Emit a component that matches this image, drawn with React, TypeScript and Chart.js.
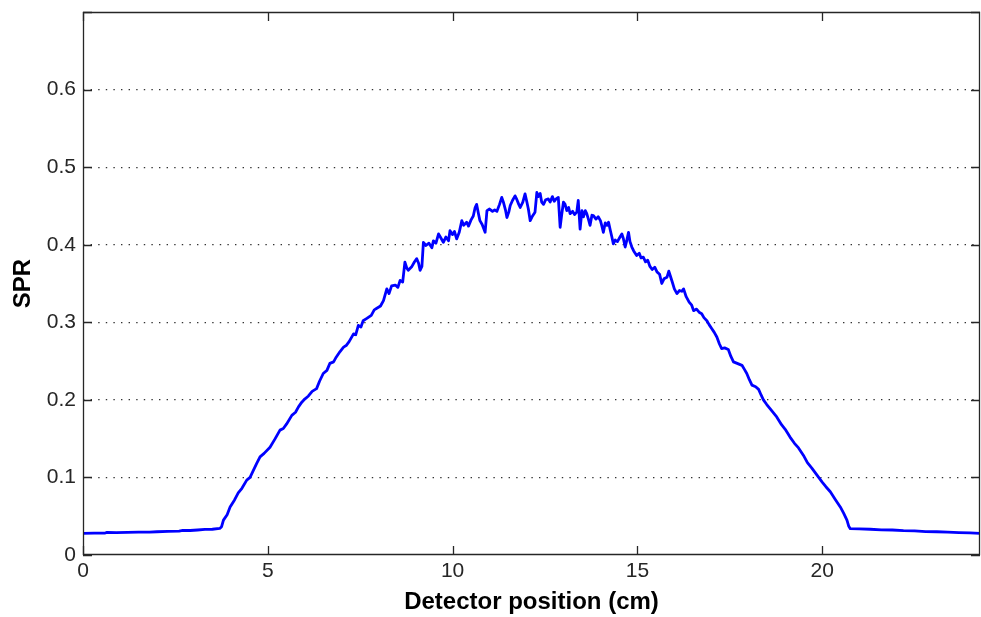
import React, { useEffect, useRef } from "react";
import { Chart, registerables } from "chart.js";

Chart.register(...registerables);

// Detector position (cm)
const positions: number[] = [
  0, 0.3, 0.6, 0.65, 0.9, 1.2, 1.5, 1.8, 2.0, 2.3,
  2.6, 2.7, 2.9, 3.1, 3.3, 3.5, 3.7, 3.75, 3.8, 3.9,
  3.98, 4.1, 4.2, 4.3, 4.43, 4.52, 4.6, 4.7, 4.79, 4.9,
  5.06, 5.2, 5.33, 5.42, 5.51, 5.65, 5.75, 5.83, 5.92, 6.0,
  6.1, 6.2, 6.32, 6.4, 6.5, 6.6, 6.68, 6.78, 6.85, 6.95,
  7.05, 7.12, 7.2, 7.32, 7.38, 7.45, 7.52, 7.58, 7.68, 7.8,
  7.88, 7.95, 8.05, 8.13, 8.22, 8.28, 8.35, 8.45, 8.52, 8.58,
  8.65, 8.71, 8.76, 8.8, 8.9, 8.97, 9.03, 9.08, 9.12, 9.17,
  9.21, 9.28, 9.36, 9.44, 9.48, 9.55, 9.62, 9.68, 9.75, 9.82,
  9.89, 9.93, 10.0, 10.05, 10.11, 10.18, 10.25, 10.3, 10.38, 10.43,
  10.5, 10.56, 10.61, 10.65, 10.7, 10.74, 10.8, 10.88, 10.93, 11.0,
  11.08, 11.14, 11.2, 11.27, 11.33, 11.38, 11.43, 11.47, 11.52, 11.56,
  11.62, 11.69, 11.74, 11.79, 11.83, 11.9, 11.96, 12.01, 12.05, 12.1,
  12.15, 12.23, 12.28, 12.32, 12.37, 12.41, 12.46, 12.52, 12.59, 12.64,
  12.7, 12.75, 12.8, 12.86, 12.91, 12.95, 13.0, 13.04, 13.09, 13.14,
  13.18, 13.25, 13.3, 13.36, 13.4, 13.45, 13.5, 13.54, 13.59, 13.63,
  13.68, 13.72, 13.77, 13.81, 13.88, 13.94, 14.0, 14.04, 14.08, 14.13,
  14.18, 14.22, 14.27, 14.31, 14.35, 14.4, 14.46, 14.53, 14.58, 14.62,
  14.67, 14.71, 14.76, 14.8, 14.85, 14.9, 14.98, 15.05, 15.1, 15.16,
  15.22, 15.28, 15.34, 15.4, 15.47, 15.53, 15.6, 15.66, 15.72, 15.8,
  15.85, 15.89, 15.95, 16.0, 16.07, 16.14, 16.2, 16.25, 16.32, 16.4,
  16.47, 16.52, 16.6, 16.67, 16.74, 16.8, 16.88, 16.94, 17.01, 17.08,
  17.15, 17.22, 17.28, 17.36, 17.46, 17.53, 17.6, 17.7, 17.83, 17.9,
  17.96, 18.03, 18.1, 18.2, 18.28, 18.35, 18.41, 18.5, 18.6, 18.77,
  18.9, 19.0, 19.13, 19.25, 19.36, 19.49, 19.6, 19.72, 19.86, 20.0,
  20.1, 20.22, 20.35, 20.49, 20.58, 20.67, 20.72, 20.76, 21.0, 21.3,
  21.6, 21.9, 22.2, 22.5, 22.8, 23.1, 23.4, 23.7, 24.0, 24.27,
];

// SPR values
const sprValues: number[] = [
  0.0278, 0.0282, 0.0283, 0.0292, 0.0288, 0.0292, 0.0296, 0.0296, 0.03, 0.0304,
  0.0308, 0.0318, 0.0316, 0.0322, 0.033, 0.0332, 0.0342, 0.0365, 0.045, 0.052,
  0.062, 0.071, 0.08, 0.086, 0.0965, 0.1, 0.108, 0.118, 0.1265, 0.131,
  0.139, 0.15, 0.161, 0.163, 0.169, 0.18, 0.184, 0.191, 0.197, 0.201,
  0.205, 0.211, 0.2145, 0.224, 0.234, 0.238, 0.247, 0.249, 0.255, 0.262,
  0.268, 0.27, 0.275, 0.285, 0.284, 0.296, 0.294, 0.302, 0.305, 0.309,
  0.316, 0.318, 0.321, 0.328, 0.343, 0.337, 0.347, 0.348, 0.345, 0.354,
  0.352, 0.3775, 0.37, 0.367, 0.372, 0.378, 0.382, 0.376, 0.367, 0.372,
  0.403, 0.399, 0.402, 0.396, 0.405, 0.402, 0.414, 0.409, 0.403, 0.41,
  0.405, 0.418, 0.413, 0.417, 0.4075, 0.416, 0.431, 0.425, 0.429, 0.424,
  0.432, 0.437, 0.448, 0.452, 0.44, 0.431, 0.426, 0.416, 0.444, 0.446,
  0.443, 0.445, 0.443, 0.452, 0.461, 0.454, 0.445, 0.435, 0.442, 0.4505,
  0.457, 0.463, 0.458, 0.452, 0.448, 0.455, 0.4655, 0.455, 0.446, 0.431,
  0.436, 0.442, 0.4675, 0.462, 0.466, 0.455, 0.452, 0.458, 0.459, 0.455,
  0.462, 0.456, 0.459, 0.461, 0.4225, 0.438, 0.455, 0.4525, 0.444, 0.448,
  0.44, 0.443, 0.439, 0.442, 0.457, 0.42, 0.444, 0.436, 0.444, 0.44,
  0.432, 0.425, 0.438, 0.4375, 0.433, 0.436, 0.431, 0.424, 0.416, 0.428,
  0.425, 0.429, 0.418, 0.41, 0.401, 0.406, 0.404, 0.41, 0.414, 0.408,
  0.397, 0.405, 0.416, 0.404, 0.397, 0.392, 0.386, 0.389, 0.383, 0.384,
  0.378, 0.38, 0.372, 0.368, 0.371, 0.365, 0.362, 0.35, 0.356, 0.358,
  0.366, 0.36, 0.351, 0.343, 0.337, 0.341, 0.34, 0.343, 0.333, 0.326,
  0.322, 0.315, 0.317, 0.313, 0.311, 0.306, 0.302, 0.297, 0.292, 0.287,
  0.281, 0.272, 0.266, 0.267, 0.265, 0.256, 0.249, 0.247, 0.2445, 0.239,
  0.234, 0.226, 0.219, 0.217, 0.2135, 0.206, 0.2, 0.194, 0.188, 0.178,
  0.168, 0.162, 0.152, 0.144, 0.138, 0.1287, 0.119, 0.112, 0.103, 0.094,
  0.088, 0.0815, 0.072, 0.062, 0.054, 0.045, 0.037, 0.034, 0.0338, 0.0332,
  0.0325, 0.0322, 0.0315, 0.0312, 0.0302, 0.03, 0.0294, 0.0288, 0.0284, 0.028,
];

const xTickValues: number[] = [0, 5, 10, 15, 20];
const yTickValues: number[] = [0, 0.1, 0.2, 0.3, 0.4, 0.5, 0.6, 0.7];
const xMax = 24.27;
const yMax = 0.7;

const FONT = '"Liberation Sans", Arial, Helvetica, sans-serif';
const AXIS_COLOR = "#262626";

const framePlugin = {
  id: "matlabFrame",
  afterDatasetsDraw(chart: any) {
    const { ctx, chartArea, scales } = chart;
    const { left, right, top, bottom } = chartArea;
    const tickLen = 9;
    ctx.save();
    ctx.strokeStyle = AXIS_COLOR;
    ctx.lineWidth = 1.3;
    ctx.beginPath();
    ctx.rect(left + 0.5, top + 0.5, right - left - 1, bottom - top - 1);
    ctx.stroke();
    ctx.beginPath();
    xTickValues.forEach((v) => {
      const px = Math.round(scales.x.getPixelForValue(v)) + 0.5;
      ctx.moveTo(px, bottom);
      ctx.lineTo(px, bottom - tickLen);
      ctx.moveTo(px, top);
      ctx.lineTo(px, top + tickLen);
    });
    yTickValues.forEach((v) => {
      const py = Math.round(scales.y.getPixelForValue(v)) + 0.5;
      ctx.moveTo(left, py);
      ctx.lineTo(left + tickLen, py);
      ctx.moveTo(right, py);
      ctx.lineTo(right - tickLen, py);
    });
    ctx.stroke();
    ctx.restore();
  },
};

export default function App() {
  const canvasRef = useRef<HTMLCanvasElement | null>(null);

  useEffect(() => {
    document.body.style.margin = "0";
    const canvas = canvasRef.current;
    if (!canvas) return;
    const points = positions.map((x, i) => ({ x, y: sprValues[i] }));
    const chart = new Chart(canvas, {
      type: "line",
      data: {
        datasets: [
          {
            data: points,
            borderColor: "#0000ff",
            borderWidth: 2.8,
            borderJoinStyle: "round",
            pointRadius: 0,
            tension: 0,
            fill: false,
          },
        ],
      },
      options: {
        animation: false,
        responsive: false,
        devicePixelRatio: 1,
        parsing: false,
        layout: { padding: { left: 0, top: 12, right: 1, bottom: 0 } },
        plugins: {
          legend: { display: false },
          tooltip: { enabled: false },
        },
        scales: {
          x: {
            type: "linear",
            min: 0,
            max: xMax,
            afterBuildTicks: (scale: any) => {
              scale.ticks = xTickValues.map((v) => ({ value: v }));
            },
            afterFit: (scale: any) => {
              scale.height = 62;
              scale.paddingLeft = 0;
              scale.paddingRight = 0;
            },
            grid: { display: false, drawTicks: false },
            border: { display: false },
            ticks: {
              padding: 4,
              color: AXIS_COLOR,
              font: { family: FONT, size: 21 },
              maxRotation: 0,
              callback: (v: any) => String(v),
            },
            title: {
              display: true,
              text: "Detector position (cm)",
              color: "#000",
              font: { family: FONT, size: 24, weight: "bold", lineHeight: 1 },
              padding: { top: 0, bottom: 3 },
            },
          },
          y: {
            type: "linear",
            min: 0,
            max: yMax,
            afterBuildTicks: (scale: any) => {
              scale.ticks = yTickValues.map((v) => ({ value: v }));
            },
            afterFit: (scale: any) => {
              scale.width = 83;
              scale.paddingTop = 0;
              scale.paddingBottom = 0;
            },
            grid: {
              drawTicks: false,
              color: (c: any) => {
                const v = c.tick ? c.tick.value : 0;
                return v > 0.05 && v < 0.65 ? "#333333" : "rgba(0,0,0,0)";
              },
              lineWidth: 1.2,
            },
            border: { display: false, dash: [1.4, 6.2] },
            ticks: {
              padding: 7,
              color: AXIS_COLOR,
              font: { family: FONT, size: 21 },
              callback: (v: any) =>
                v > 0.65 ? "" : v === 0 ? "0" : Number(v).toFixed(1),
            },
            title: {
              display: true,
              text: "SPR",
              color: "#000",
              font: { family: FONT, size: 24, weight: "bold", lineHeight: 1 },
              padding: { top: 11, bottom: 0 },
            },
          },
        },
      },
      plugins: [framePlugin],
    } as any);
    return () => chart.destroy();
  }, []);

  return (
    <canvas
      ref={canvasRef}
      width={981}
      height={617}
      style={{ display: "block", width: 981, height: 617 }}
    />
  );
}
